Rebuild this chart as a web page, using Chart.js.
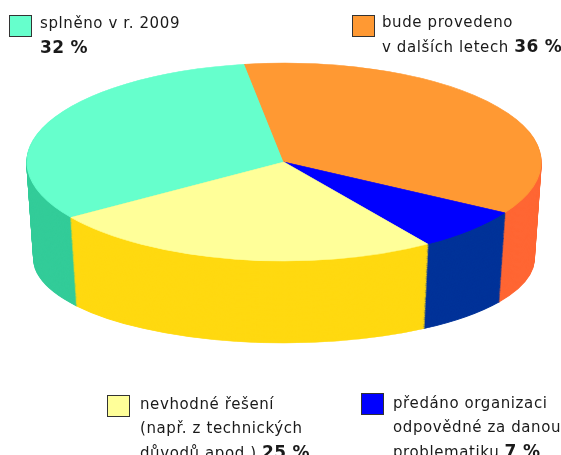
<!DOCTYPE html>
<html>
<head>
<meta charset="utf-8">
<script src="https://cdn.jsdelivr.net/npm/chart.js@4"></script>
<style>
  html, body { margin: 0; padding: 0; background: #fff; overflow: hidden; }
  #wrap { position: relative; width: 561px; height: 455px; overflow: hidden; }
  #pie { position: absolute; left: 0; top: 0; }
  .item { position: absolute; font-family: "DejaVu Sans", sans-serif; font-size: 15px;
          line-height: 24px; letter-spacing: 0.6px; color: #1a1a1a; white-space: nowrap; }
  .item b { font-size: 17px; letter-spacing: 0.3px; }
  .box { position: absolute; width: 23px; height: 22px; border: 1px solid #333; box-sizing: border-box; }
</style>
</head>
<body>
<div id="wrap">
  <canvas id="pie" width="561" height="455"></canvas>
</div>
<script>
const categories = [
  "splněno v r. 2009",
  "bude provedeno v dalších letech",
  "předáno organizaci odpovědné za danou problematiku",
  "nevhodné řešení (např. z technických důvodů apod.)"
];
const shares = [32, 36, 7, 25];
const labelLines = [
  ["splněno v r. 2009", ""],
  ["bude provedeno", "v dalších letech "],
  ["předáno organizaci", "odpovědné za danou", "problematiku "],
  ["nevhodné řešení", "(např. z technických", "důvodů apod.) "]
];
const topColors = ["#66ffcc", "#ff9933", "#0000ff", "#ffff99"];
const sideColors = ["#33cc99", "#ff6633", "#003399", "#ffd911"];

// where the legend entries sit: box left/top, text left/top
const legendPos = [
  [9, 15, 40, 11],
  [352, 15, 382, 10],
  [361, 393, 393, 391],
  [107, 395, 140, 392]
];

// ellipse of the top face and the height of the wall
const CX = 284, CY = 162, RX = 257, RY = 99, DEPTH = 97;

const wrap = document.getElementById("wrap");
categories.forEach((c, i) => {
  const p = legendPos[i];
  const box = document.createElement("div");
  box.className = "box";
  box.style.left = p[0] + "px";
  box.style.top = p[1] + "px";
  box.style.background = topColors[i];
  wrap.appendChild(box);

  const txt = document.createElement("div");
  txt.className = "item";
  txt.style.left = p[2] + "px";
  txt.style.top = p[3] + "px";
  const lines = labelLines[i].slice();
  lines[lines.length - 1] += "<b>" + shares[i] + " %</b>";
  txt.innerHTML = lines.join("<br>");
  wrap.appendChild(txt);
});

function sliceFill(ctx, el, color) {
  ctx.fillStyle = color;
  ctx.strokeStyle = color;
  ctx.lineWidth = 1.5;
  ctx.beginPath();
  ctx.moveTo(el.x, el.y);
  ctx.arc(el.x, el.y, el.outerRadius, el.startAngle, el.endAngle);
  ctx.closePath();
  ctx.fill();
  ctx.stroke();
}

const pie3d = {
  id: "pie3d",
  beforeDatasetsDraw(chart) {
    const ctx = chart.ctx;
    const meta = chart.getDatasetMeta(0);
    const first = meta.data[0];
    const R = first.outerRadius, x0 = first.x, y0 = first.y;

    // wall: stack the slices downwards, deepest first
    for (let d = DEPTH; d >= 1; d--) {
      const t = d / DEPTH;
      ctx.save();
      ctx.translate(CX, CY + d);
      ctx.scale((RX - 7 * t) / R, (RY - 15 * t) / R);
      ctx.translate(-x0, -y0);
      meta.data.forEach((el, i) => sliceFill(ctx, el, sideColors[i]));
      ctx.restore();
    }

    // top face is drawn by chart.js inside this transform
    ctx.save();
    ctx.translate(CX, CY);
    ctx.scale(RX / R, RY / R);
    ctx.translate(-x0, -y0);
  },
  afterDatasetsDraw(chart) {
    chart.ctx.restore();
  }
};

new Chart(document.getElementById("pie"), {
  type: "pie",
  data: {
    labels: categories,
    datasets: [{
      data: shares,
      backgroundColor: topColors,
      borderColor: topColors,
      borderWidth: 1,
      clip: false
    }]
  },
  options: {
    responsive: false,
    animation: false,
    rotation: 236,
    events: [],
    plugins: {
      legend: { display: false },
      tooltip: { enabled: false }
    }
  },
  plugins: [pie3d]
});
</script>
</body>
</html>
